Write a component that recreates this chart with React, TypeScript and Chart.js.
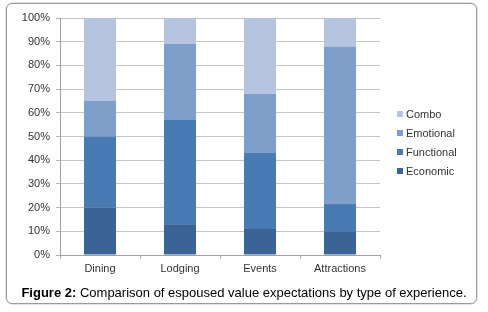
import React, { useEffect, useRef } from "react";
import { Chart, registerables } from "chart.js";

Chart.register(...registerables);

const categories = ["Dining", "Lodging", "Events", "Attractions"];
const seriesNames = ["Economic", "Functional", "Emotional", "Combo"];
const economic = [20, 13, 11, 10];
const functional = [30, 44, 32, 11.5];
const emotional = [15, 32, 25, 66.5];
const combo = [35, 11, 32, 12];
const seriesColors = ["#3B6496", "#4A7AB4", "#7F9FCB", "#B7C4DF"];
const yTicks = [0, 10, 20, 30, 40, 50, 60, 70, 80, 90, 100];

const FONT = "'Liberation Sans', Arial, sans-serif";

const legendPlugin = {
  id: "customLegend",
  afterDraw(chart: any) {
    const ctx = chart.ctx;
    const items = chart.data.datasets.map((d: any, i: number) => ({ label: d.label, color: d.backgroundColor, i })).reverse();
    ctx.save();
    ctx.font = `11px ${FONT}`;
    ctx.textBaseline = "middle";
    ctx.textAlign = "left";
    items.forEach((it: any, k: number) => {
      const y = 114 + k * 19;
      ctx.fillStyle = it.color;
      ctx.fillRect(397, y - 3, 6, 6);
      ctx.fillStyle = "#333333";
      ctx.fillText(it.label, 406, y + 0.5);
    });
    ctx.restore();
  },
};

export default function App() {
  const ref = useRef<HTMLCanvasElement>(null);
  useEffect(() => {
    document.body.style.margin = "0";
    const data = [economic, functional, emotional, combo];
    const chart = new Chart(ref.current!, {
      type: "bar",
      data: {
        labels: categories,
        datasets: seriesNames.map((name, i) => ({
          label: name,
          data: data[i],
          backgroundColor: seriesColors[i],
          borderWidth: 0,
          categoryPercentage: 1,
          barPercentage: 0.4,
        })),
      },
      options: {
        animation: false,
        responsive: false,
        maintainAspectRatio: false,
        layout: { padding: { left: 0, right: 108, top: 18, bottom: 0 } },
        plugins: { legend: { display: false }, tooltip: { enabled: false } },
        scales: {
          x: {
            stacked: true,
            grid: { drawOnChartArea: false, drawTicks: true, tickLength: 4, color: "#b0b0b0", offset: true },
            border: { color: "#a0a0a0" },
            ticks: { font: { family: FONT, size: 11 }, color: "#333333", padding: 3, maxRotation: 0 },
            afterFit(scale: any) { scale.height = 57; },
          },
          y: {
            stacked: true,
            min: 0,
            max: 100,
            afterBuildTicks(scale: any) { scale.ticks = yTicks.map((v) => ({ value: v })); },
            grid: { color: "#c4c4c4", tickLength: 4, tickColor: "#b0b0b0" },
            border: { color: "#a0a0a0" },
            ticks: {
              font: { family: FONT, size: 11 },
              color: "#333333",
              padding: 6,
              callback: (v: any) => v + "%",
            },
            afterFit(scale: any) { scale.width = 60; },
          },
        },
      },
      plugins: [legendPlugin],
    });
    return () => chart.destroy();
  }, []);

  return (
    <div style={{ position: "fixed", left: 0, top: 0, width: 488, height: 312, background: "#fff" }}>
      <div
        style={{
          position: "absolute",
          left: 6,
          top: 3,
          width: 469,
          height: 299,
          border: "1px solid #9a9a9a",
          borderRadius: 6,
          boxShadow: "0 0 0 0.5px #c8c8c8",
        }}
      />
      <canvas ref={ref} width={488} height={312} style={{ position: "absolute", left: 0, top: 0 }} />
      <div
        style={{
          position: "absolute",
          left: 0,
          top: 285,
          width: 488,
          textAlign: "center",
          fontFamily: FONT,
          fontSize: 13,
          lineHeight: "16px",
          color: "#000",
          whiteSpace: "nowrap",
        }}
      >
        <b>Figure 2:</b> Comparison of espoused value expectations by type of experience.
      </div>
    </div>
  );
}
